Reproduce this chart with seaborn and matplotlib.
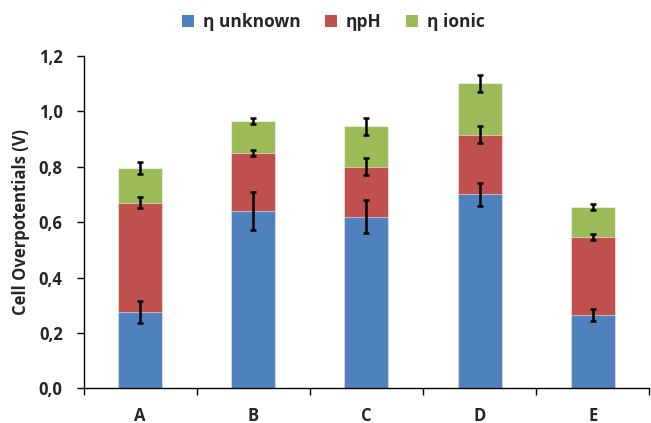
import numpy as np
import pandas as pd
import matplotlib
matplotlib.use("Agg")
import matplotlib.pyplot as plt
import seaborn as sns
from matplotlib.patches import Patch

categories = ["A", "B", "C", "D", "E"]
eta_unknown = [0.275, 0.64, 0.62, 0.70, 0.265]
eta_pH = [0.395, 0.21, 0.18, 0.215, 0.28]
eta_ionic = [0.125, 0.115, 0.145, 0.185, 0.11]
err_unknown = [0.04, 0.07, 0.06, 0.041, 0.023]
err_pH = [0.02, 0.01, 0.031, 0.031, 0.011]
err_ionic = [0.022, 0.01, 0.031, 0.031, 0.011]
series_names = ["η unknown", "ηpH", "η ionic"]
colors = ["#4F81BD", "#C0504D", "#9BBB59"]
yticks = [0.0, 0.2, 0.4, 0.6, 0.8, 1.0, 1.2]
ytick_labels = ["0,0", "0,2", "0,4", "0,6", "0,8", "1,0", "1,2"]

sns.set_theme(style="white")
plt.rcParams["font.family"] = ["Open Sans", "DejaVu Sans"]
plt.rcParams["font.weight"] = "bold"

cum1 = np.array(eta_unknown)
cum2 = cum1 + np.array(eta_pH)
cum3 = cum2 + np.array(eta_ionic)
df = pd.DataFrame({"cat": categories, "c1": cum1, "c2": cum2, "c3": cum3})

fig = plt.figure(figsize=(6.51, 4.23), dpi=100)
ax = fig.add_axes([0.1283, 0.0816, 0.8691, 0.7867])

for col, c in zip(["c3", "c2", "c1"], colors[::-1]):
    sns.barplot(data=df, x="cat", y=col, color=c, saturation=1, width=0.39,
                edgecolor=(1, 1, 1, 0.5), linewidth=0.8, ax=ax, errorbar=None)

xpos = np.arange(len(categories))
for cum, err in [(cum1, err_unknown), (cum2, err_pH), (cum3, err_ionic)]:
    ax.errorbar(xpos, cum, yerr=err, fmt="none", ecolor="black",
                elinewidth=1.8, capsize=2.5, capthick=1.8, zorder=5)

txt = "#262626"
ax.set_ylim(0, 1.2)
ax.set_xlim(-0.5, 4.5)
ax.set_yticks(yticks)
ax.set_yticklabels(ytick_labels, fontsize=12, fontweight="bold", color=txt)
ax.set_xticks(xpos)
ax.set_xticklabels(categories, fontsize=12, fontweight="bold", color=txt)
ax.set_xticks(np.arange(-0.5, 5, 1.0), minor=True)
ax.tick_params(axis="x", which="major", length=0, pad=13)
ax.tick_params(axis="x", which="minor", length=5, width=1, direction="out",
               color="black", bottom=True)
ax.tick_params(axis="y", length=5, width=1, direction="out", color="black",
               left=True, pad=10)
ax.set_xlabel("")
ax.set_ylabel("Cell Overpotentials (V)", fontsize=12, fontweight="bold",
              color=txt, labelpad=6)
for s in ["top", "right"]:
    ax.spines[s].set_visible(False)
for s in ["left", "bottom"]:
    ax.spines[s].set_color("black")
    ax.spines[s].set_linewidth(1.0)

handles = [Patch(facecolor=c, edgecolor="none") for c in colors]
fig.legend(handles, series_names, loc="center", bbox_to_anchor=(0.512, 0.947),
           ncol=3, frameon=False, handlelength=0.7,
           handleheight=0.7, handletextpad=0.5, columnspacing=1.4,
           prop={"weight": "bold", "size": 12.5})

fig.savefig("out.png", dpi=100)
